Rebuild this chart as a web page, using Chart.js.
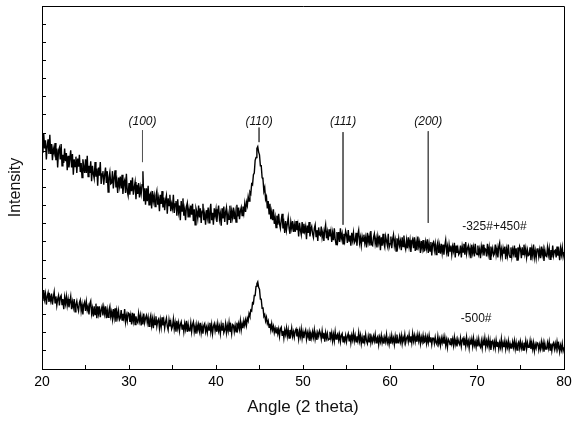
<!DOCTYPE html>
<html>
<head>
<meta charset="utf-8">
<script src="https://cdn.jsdelivr.net/npm/chart.js@4"></script>
<style>
  body { margin: 0; background: #fff; }
  #wrap { width: 572px; height: 423px; }
</style>
</head>
<body>
<div id="wrap"><canvas id="xrdCanvas" width="572" height="423"></canvas></div>
<script>
// angle grid of the scan (2 theta, degrees)
var angleStart = 20;
var angleStep = 0.1;

// -325#+450# powder, every 0.1 deg (one row per degree)
var upperCounts = [
    252, 238, 259, 243, 252, 231, 246, 253, 237, 258,
    237, 248, 230, 243, 238, 249, 230, 243, 222, 241,
    244, 231, 248, 224, 236, 227, 243, 229, 238, 219,
    235, 222, 232, 241, 222, 237, 214, 231, 223, 234,
    216, 232, 223, 236, 217, 227, 211, 231, 223, 216,
    231, 216, 235, 212, 224, 216, 229, 207, 224, 215,
    210, 228, 212, 221, 202, 222, 213, 228, 204, 215,
    218, 203, 214, 222, 205, 218, 195, 211, 217, 204,
    205, 218, 199, 211, 219, 200, 207, 194, 211, 202,
    212, 199, 214, 193, 205, 208, 194, 215, 196, 191,
    205, 192, 208, 196, 211, 192, 200, 206, 187, 203,
    193, 205, 189, 200, 193, 203, 218, 185, 199, 181,
    199, 185, 202, 181, 192, 194, 177, 196, 185, 191,
    179, 191, 196, 181, 188, 174, 192, 182, 196, 178,
    189, 175, 186, 191, 171, 188, 180, 192, 174, 182,
    177, 192, 172, 182, 185, 169, 187, 173, 180, 164,
    185, 174, 188, 169, 176, 164, 179, 183, 167, 176,
    167, 180, 170, 182, 163, 176, 159, 177, 173, 166,
    180, 167, 177, 161, 174, 182, 164, 171, 159, 175,
    167, 178, 161, 174, 182, 164, 172, 159, 177, 169,
    176, 162, 173, 180, 165, 171, 158, 177, 166, 179,
    162, 173, 178, 159, 171, 165, 180, 161, 174, 167,
    178, 165, 173, 162, 181, 168, 178, 165, 174, 178,
    169, 179, 172, 182, 173, 184, 180, 190, 185, 195,
    193, 204, 203, 214, 216, 230, 233, 243, 245, 239,
    236, 224, 224, 211, 209, 196, 200, 187, 190, 177,
    185, 171, 182, 165, 173, 164, 176, 160, 167, 156,
    169, 159, 171, 160, 155, 164, 171, 155, 161, 150,
    163, 153, 160, 167, 155, 149, 162, 155, 163, 151,
    159, 151, 163, 153, 159, 146, 161, 153, 148, 162,
    150, 160, 152, 157, 143, 158, 150, 162, 146, 154,
    157, 149, 145, 155, 159, 146, 153, 141, 156, 148,
    147, 157, 145, 151, 141, 153, 159, 144, 151, 142,
    154, 146, 152, 140, 150, 142, 155, 143, 137, 151,
    142, 151, 140, 155, 144, 149, 138, 149, 142, 152,
    148, 139, 153, 141, 147, 136, 150, 142, 150, 139,
    141, 150, 136, 148, 153, 139, 145, 136, 146, 141,
    148, 139, 145, 134, 150, 140, 146, 136, 152, 137,
    136, 145, 149, 138, 144, 134, 146, 139, 147, 131,
    145, 136, 149, 138, 134, 146, 141, 136, 149, 134,
    138, 146, 133, 143, 148, 136, 142, 130, 144, 136,
    144, 136, 141, 131, 145, 135, 147, 136, 132, 142,
    133, 145, 135, 142, 129, 140, 143, 133, 145, 130,
    140, 131, 146, 135, 140, 128, 141, 133, 142, 130,
    131, 140, 133, 143, 128, 138, 130, 140, 125, 138,
    140, 131, 138, 126, 136, 140, 128, 136, 127, 138,
    128, 137, 126, 136, 142, 129, 135, 124, 137, 130,
    136, 126, 135, 130, 139, 123, 136, 128, 133, 126,
    128, 136, 123, 135, 129, 138, 126, 140, 127, 133,
    136, 127, 133, 122, 137, 128, 134, 124, 138, 128,
    126, 136, 127, 132, 122, 135, 129, 137, 125, 133,
    132, 124, 138, 127, 134, 121, 135, 128, 133, 125,
    127, 137, 126, 133, 123, 135, 139, 125, 132, 124,
    133, 127, 135, 121, 132, 125, 137, 126, 123, 134,
    124, 132, 127, 136, 123, 133, 120, 134, 126, 135,
    132, 122, 134, 126, 137, 127, 133, 123, 131, 125,
    126, 134, 120, 132, 125, 137, 123, 130, 122, 132,
    133, 124, 131, 122, 135, 126, 132, 119, 131, 125,
    124, 134, 126, 133, 121, 131, 123, 136, 125, 130,
    131, 123, 135, 125, 130, 120, 133, 126, 134, 124,
    129
];

// -500# powder
var lowerCounts = [
    83, 75, 87, 77, 83, 71, 80, 84, 74, 80,
    75, 83, 71, 79, 85, 73, 80, 70, 77, 81,
    70, 79, 81, 71, 77, 66, 79, 72, 80, 70,
    77, 68, 74, 80, 66, 74, 68, 77, 63, 71,
    75, 68, 64, 73, 76, 64, 71, 60, 71, 74,
    64, 74, 65, 69, 60, 72, 75, 61, 67, 58,
    69, 60, 72, 56, 69, 61, 69, 57, 65, 69,
    59, 68, 61, 69, 56, 65, 57, 65, 69, 58,
    63, 55, 66, 57, 67, 52, 64, 57, 64, 54,
    56, 65, 54, 61, 56, 66, 52, 59, 53, 62,
    61, 52, 59, 49, 62, 53, 61, 49, 58, 53,
    51, 61, 53, 59, 48, 57, 49, 61, 51, 56,
    59, 51, 57, 47, 55, 59, 48, 55, 45, 56,
    49, 58, 47, 53, 55, 45, 54, 46, 57, 48,
    54, 45, 52, 56, 47, 43, 54, 47, 52, 44,
    47, 55, 44, 51, 41, 53, 45, 51, 42, 49,
    52, 44, 49, 41, 50, 44, 53, 41, 49, 42,
    43, 51, 41, 49, 52, 41, 47, 39, 49, 43,
    49, 42, 51, 40, 47, 39, 48, 50, 41, 46,
    40, 48, 43, 51, 41, 49, 39, 47, 50, 42,
    48, 41, 50, 42, 47, 39, 49, 43, 51, 40,
    43, 50, 40, 48, 42, 51, 41, 47, 39, 49,
    48, 41, 48, 41, 51, 44, 50, 44, 53, 43,
    50, 45, 53, 48, 54, 48, 56, 53, 61, 58,
    65, 64, 73, 72, 81, 81, 91, 94, 96, 90,
    88, 77, 77, 67, 68, 58, 60, 53, 57, 50,
    53, 46, 50, 43, 50, 43, 47, 40, 45, 40,
    46, 39, 44, 36, 44, 46, 37, 42, 34, 43,
    38, 45, 36, 43, 34, 43, 38, 45, 36, 41,
    35, 42, 44, 36, 41, 33, 42, 36, 44, 34,
    41, 34, 40, 43, 33, 40, 35, 41, 31, 39,
    34, 41, 35, 43, 33, 39, 32, 40, 36, 42,
    39, 33, 42, 34, 40, 30, 40, 34, 39, 32,
    33, 41, 34, 40, 31, 38, 31, 41, 33, 37,
    39, 32, 38, 30, 37, 39, 30, 36, 31, 37,
    30, 36, 39, 31, 38, 29, 37, 32, 40, 31,
    37, 30, 36, 31, 40, 31, 37, 28, 35, 29,
    37, 30, 38, 31, 28, 36, 30, 39, 29, 35,
    30, 36, 31, 38, 29, 34, 36, 27, 35, 30,
    37, 29, 34, 28, 35, 30, 38, 29, 33, 27,
    35, 28, 37, 30, 34, 27, 36, 29, 38, 30,
    29, 36, 30, 37, 28, 35, 31, 38, 29, 34,
    36, 30, 38, 30, 36, 29, 39, 31, 37, 30,
    36, 30, 38, 31, 37, 28, 35, 30, 37, 29,
    30, 36, 28, 35, 29, 37, 30, 35, 27, 34,
    34, 28, 35, 29, 27, 36, 28, 33, 26, 34,
    29, 35, 28, 35, 26, 32, 24, 33, 31, 27,
    34, 28, 33, 26, 35, 27, 32, 25, 33, 29,
    27, 34, 25, 32, 34, 26, 32, 25, 35, 27,
    31, 23, 32, 27, 33, 25, 34, 26, 30, 24,
    32, 25, 33, 26, 24, 31, 23, 32, 26, 34,
    24, 31, 26, 33, 24, 31, 21, 29, 31, 24,
    30, 23, 32, 25, 30, 22, 29, 24, 33, 23,
    29, 24, 31, 22, 29, 24, 31, 22, 28, 23,
    23, 30, 24, 31, 22, 29, 21, 28, 30, 23,
    30, 23, 28, 21, 29, 24, 31, 22, 29, 24,
    24, 31, 22, 29, 22, 29, 20, 27, 23, 29,
    28, 21, 27, 22, 30, 23, 29, 19, 28, 22,
    22, 29, 23, 30, 21, 28, 20, 27, 29, 22,
    28, 22, 30, 23, 27, 19, 26, 21, 28, 20,
    24
];

var curveNames = ["-325#+450#", "-500#"];
var curveLabelX = [72, 69.9];
var curveLabelY = [157, 55];

// reflection markers
var markerNames = ["(100)", "(110)", "(111)", "(200)"];
var markerAngles = [31.55, 44.95, 54.6, 64.4];
var markerTop = [263, 266, 261, 262];
var markerBottom = [228, 250, 159, 161];
var markerLabelY = 273;

var xTicks = [20, 30, 40, 50, 60, 70, 80];

function toPoints(counts) {
    var pts = [];
    for (var i = 0; i < counts.length; i++) {
        pts.push({ x: angleStart + i * angleStep, y: counts[i] });
    }
    return pts;
}

var datasets = [
    { data: toPoints(upperCounts), borderColor: "#000", borderWidth: 1.4, pointRadius: 0, tension: 0 },
    { data: toPoints(lowerCounts), borderColor: "#000", borderWidth: 1.4, pointRadius: 0, tension: 0 }
];
for (var m = 0; m < markerNames.length; m++) {
    datasets.push({
        data: [{ x: markerAngles[m], y: markerTop[m] }, { x: markerAngles[m], y: markerBottom[m] }],
        borderColor: "#555",
        borderWidth: 1,
        pointRadius: 0
    });
}

// frame on top/right + text labels inside the plot
var textPlugin = {
    id: "textPlugin",
    afterDatasetsDraw: function (chart) {
        var ctx = chart.ctx, a = chart.chartArea;
        var sx = chart.scales.x, sy = chart.scales.y;
        ctx.save();
        ctx.strokeStyle = "#000";
        ctx.lineWidth = 1;
        ctx.beginPath();
        ctx.moveTo(a.left, a.top + 0.5);
        ctx.lineTo(a.right + 0.5, a.top + 0.5);
        ctx.lineTo(a.right + 0.5, a.bottom);
        ctx.stroke();

        ctx.fillStyle = "#111";
        ctx.textAlign = "center";
        ctx.textBaseline = "middle";
        ctx.font = "italic 12px 'Liberation Sans', Arial, sans-serif";
        for (var i = 0; i < markerNames.length; i++) {
            ctx.fillText(markerNames[i], sx.getPixelForValue(markerAngles[i]), sy.getPixelForValue(markerLabelY));
        }
        ctx.font = "12px 'Liberation Sans', Arial, sans-serif";
        for (var j = 0; j < curveNames.length; j++) {
            ctx.fillText(curveNames[j], sx.getPixelForValue(curveLabelX[j]), sy.getPixelForValue(curveLabelY[j]));
        }
        ctx.restore();
    }
};

var ctx = document.getElementById("xrdCanvas");
var xrdChart = new Chart(ctx, {
    type: "line",
    data: { datasets: datasets },
    plugins: [textPlugin],
    options: {
        responsive: false,
        animation: false,
        layout: { padding: { top: 6, right: 0, left: 0, bottom: 0 } },
        plugins: { legend: { display: false }, tooltip: { enabled: false } },
        scales: {
            x: {
                type: "linear",
                min: 20,
                max: 80,
                afterFit: function (scale) {
                    scale.height = 54;
                    scale.paddingRight = 8;
                },
                afterBuildTicks: function (scale) {
                    var t = [];
                    for (var v = 20; v <= 80; v += 5) t.push({ value: v });
                    scale.ticks = t;
                },
                ticks: {
                    color: "#000",
                    padding: 9,
                    maxRotation: 0,
                    font: { family: "'Liberation Sans', Arial, sans-serif", size: 14 },
                    callback: function (v) { return xTicks.indexOf(v) >= 0 ? String(v) : ""; }
                },
                grid: { drawOnChartArea: false, tickLength: -4, color: "#000" },
                border: { color: "#000", width: 1 },
                title: {
                    display: true,
                    text: "Angle (2 theta)",
                    color: "#111",
                    padding: { top: 0, bottom: 5 },
                    font: { family: "'Liberation Sans', Arial, sans-serif", size: 17 }
                }
            },
            y: {
                min: 0,
                max: 400,
                afterFit: function (scale) { scale.width = 42; },
                ticks: { display: false, stepSize: 20 },
                grid: { drawOnChartArea: false, tickLength: -4, color: "#000" },
                border: { color: "#000", width: 1 },
                title: {
                    display: true,
                    text: "Intensity",
                    color: "#111",
                    padding: { top: 6, bottom: 0 },
                    font: { family: "'Liberation Sans', Arial, sans-serif", size: 16 }
                }
            }
        }
    }
});
</script>
</body>
</html>
